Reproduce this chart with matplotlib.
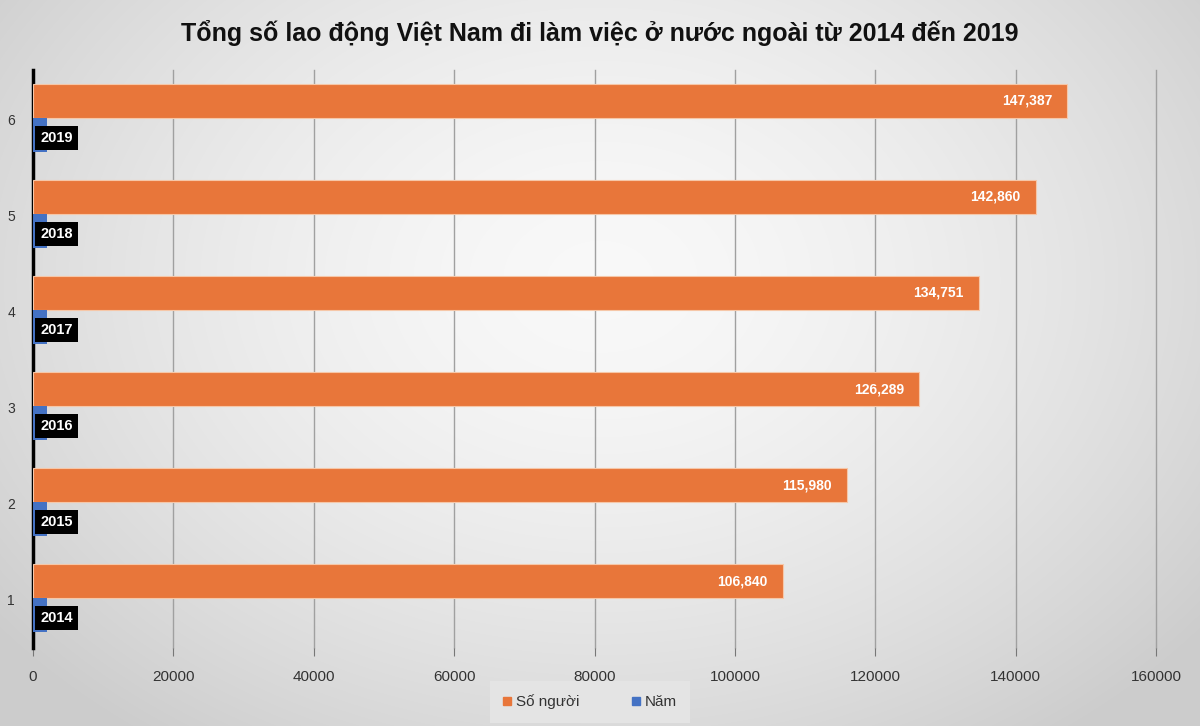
import numpy as np
import matplotlib
matplotlib.use("Agg")
import matplotlib.pyplot as plt
from matplotlib.patches import Patch

categories = [1, 2, 3, 4, 5, 6]
so_nguoi = [106840, 115980, 126289, 134751, 142860, 147387]
nam = [2014, 2015, 2016, 2017, 2018, 2019]
xticks = [0, 20000, 40000, 60000, 80000, 100000, 120000, 140000, 160000]
title = "Tổng số lao động Việt Nam đi làm việc ở nước ngoài từ 2014 đến 2019"

plt.rcParams['font.family'] = ['Liberation Sans', 'DejaVu Sans']

W, H = 1200, 726
fig = plt.figure(figsize=(W/100, H/100), dpi=100)

# radial gradient background
bg = fig.add_axes([0, 0, 1, 1], zorder=-10)
yy, xx = np.mgrid[0:H, 0:W]
r = np.sqrt(((xx - 600) / 700.0) ** 2 + ((yy - 280) / 520.0) ** 2)
val = np.clip(0.975 - 0.15 * r ** 1.6, 0.80, 0.975)
img = np.dstack([val, val, val])
bg.imshow(img, aspect='auto', extent=[0, 1, 0, 1])
bg.axis('off')

ax = fig.add_axes([33/W, 1 - 648/H, (1156-33)/W, (648-70)/H])
ax.patch.set_alpha(0)

orange = '#E8763A'
blue = '#4472C4'
h = 0.355
y = np.array(categories, dtype=float) + 0.02
ax.barh(y + h/2, so_nguoi, height=h, color=orange, edgecolor='#F6C7A8', linewidth=0.8, zorder=3)
ax.barh(y - h/2, nam, height=h, color=blue, zorder=3)

for yi, v in zip(y, so_nguoi):
    ax.text(v - 2200, yi + h/2, f"{v:,}", ha='right', va='center', color='white',
            fontsize=10, fontweight='bold', zorder=5)
for yi, v in zip(y, nam):
    ax.text(1000, yi - h/2 - 0.03, str(v), ha='left', va='center', color='white',
            fontsize=10.5, fontweight='bold', zorder=5,
            bbox=dict(boxstyle='square,pad=0.35', fc='black', ec='none'))

ax.set_xlim(0, 160000)
ax.set_ylim(0.5, 6.52)
ax.set_xticks(xticks)
ax.set_xticklabels([str(t) for t in xticks], fontsize=11, color='#333333')
ax.set_yticks(categories)
ax.set_yticklabels([str(c) for c in categories], fontsize=10, color='#333333')
ax.grid(axis='x', color='#a0a0a0', linewidth=1, zorder=0)
for gl in ax.get_xgridlines():
    gl.set_clip_on(False)
ax.set_axisbelow(True)
for s in ['top', 'right', 'bottom']:
    ax.spines[s].set_visible(False)
ax.spines['left'].set_linewidth(2.5)
ax.spines['left'].set_color('black')
ax.tick_params(axis='x', length=6, color='#777777', pad=10)
ax.tick_params(axis='y', length=0, pad=13)

fig.text(0.5, 1 - 33/H, title, ha='center', va='center', fontsize=18, fontweight='bold', color='#111111')

handles = [Patch(color=orange, label='Số người'), Patch(color=blue, label='Năm')]
leg = fig.legend(handles=handles, loc='center', bbox_to_anchor=(590/W, 1 - 702/H), ncol=2,
                 frameon=True, fontsize=11, handlelength=0.5, handleheight=0.5,
                 columnspacing=3.5, handletextpad=0.3, borderpad=0.9, fancybox=False)
leg.get_frame().set_facecolor('#e4e4e4')
leg.get_frame().set_edgecolor('none')
leg.get_frame().set_alpha(1)
for t in leg.get_texts():
    t.set_color('#333333')

fig.savefig('out.png', dpi=100)
